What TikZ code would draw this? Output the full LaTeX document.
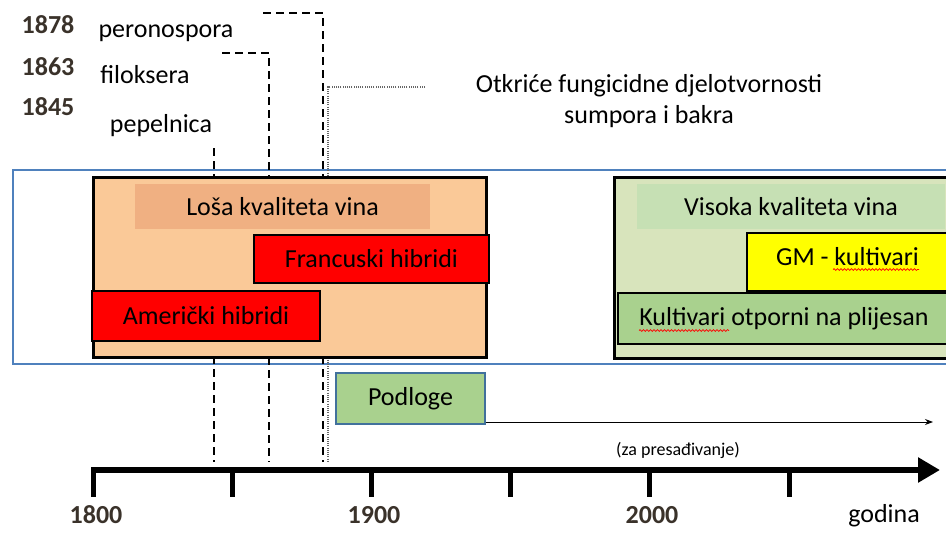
\documentclass[tikz,border=0pt]{standalone}
\usepackage{fontspec}
\setmainfont{Carlito}
\usetikzlibrary{arrows.meta,decorations.pathmorphing}
\definecolor{peach}{RGB}{250,201,152}
\definecolor{peachdark}{RGB}{240,176,130}
\definecolor{hired}{RGB}{255,0,0}
\definecolor{palegreen}{RGB}{216,228,188}
\definecolor{midgreen}{RGB}{198,224,180}
\definecolor{leafgreen}{RGB}{169,209,142}
\definecolor{gmyellow}{RGB}{255,255,0}
\definecolor{frameblue}{RGB}{79,129,189}
\definecolor{edgeblue}{RGB}{65,113,156}
\definecolor{yeartext}{RGB}{58,50,42}
\tikzset{
  bigtxt/.style={font=\fontsize{26}{29}\selectfont},
  yeartxt/.style={font=\bfseries\fontsize{26}{29}\selectfont, text=yeartext, anchor=base},
  lbl/.style={font=\fontsize{26}{29}\selectfont, anchor=base, inner sep=0},
  panel/.style={rectangle, inner sep=0, line width=3pt, draw=black},
  tag/.style={rectangle, inner sep=0, line width=1.8pt, draw=black, font=\fontsize{26}{29}\selectfont},
  dashline/.style={line width=2.5pt, dash pattern=on 8pt off 5pt},
  dotline/.style={line width=1.3pt, black!60, dash pattern=on 1pt off 1.2pt},
  squig/.style={red, line width=0.7pt, decorate, decoration={snake, amplitude=0.9pt, segment length=3.5pt}}
}
\begin{document}
\begin{tikzpicture}[x=1pt,y=-1pt]
\useasboundingbox (0,0) rectangle (946,533);

% outer blue frame
\node[rectangle, draw=frameblue, line width=2.5pt, inner sep=0, minimum width=947pt, minimum height=194pt] (frame) at (486.5,267) {};

% dashed event lines
\coordinate (l1top) at (214,148);
\coordinate (l1bot) at (214,462);
\coordinate (l2top) at (222,53);
\coordinate (l2bot) at (269,462);
\coordinate (l3top) at (263,13);
\coordinate (l3bot) at (323,462);
\coordinate (dtop) at (425,87);
\coordinate (dbot) at (328,462);
\draw[dashline] (l1top) -- (l1bot);
\draw[dashline] (l2top) -| (l2bot);
\draw[dashline] (l3top) -| (l3bot);
\draw[dotline] (dtop) -| (dbot);

% years and pests
\node[yeartxt] (y1878) at (48,33) {1878};
\node[yeartxt] (y1863) at (48,75) {1863};
\node[yeartxt] (y1845) at (48,115) {1845};
\node[lbl] (pero) at (166,37) {peronospora};
\node[lbl] (filo) at (145,83) {filoksera};
\node[lbl] (pepe) at (161,132) {pepelnica};
\node[lbl] (otk1) at (649,92) {Otkriće fungicidne djelotvornosti};
\node[lbl] (otk2) at (649,123) {sumpora i bakra};

% low quality panel
\node[panel, fill=peach, minimum width=393pt, minimum height=180pt] (lowq) at (289.5,267) {};
\node[rectangle, fill=peachdark, inner sep=0, minimum width=295pt, minimum height=45pt, bigtxt] (losa) at (282.5,206.5) {Loša kvaliteta vina};
\node[tag, fill=hired, minimum width=235pt, minimum height=48pt] (franc) at (371.5,259) {Francuski hibridi};
\node[tag, fill=hired, minimum width=228pt, minimum height=50pt] (amer) at (206,316) {Američki hibridi};

% high quality panel
\node[panel, fill=palegreen, minimum width=341pt, minimum height=181pt] (highq) at (784.5,267.5) {};
\node[rectangle, fill=midgreen, inner sep=0, minimum width=308pt, minimum height=45pt, bigtxt] (visoka) at (791,206.5) {Visoka kvaliteta vina};
\node[tag, fill=gmyellow, minimum width=201pt, minimum height=58pt, text height=16pt, text depth=10pt] (gm) at (847.5,262) {GM - kultivari};
\node[tag, fill=leafgreen, minimum width=332pt, minimum height=51pt] (kult) at (784,318.5) {Kultivari otporni na plijesan};
\draw[squig] (833,269.5) -- (919,269.5);
\draw[squig] (639,330.5) -- (729,330.5);

% rootstocks
\node[rectangle, fill=leafgreen, draw=edgeblue, line width=1.8pt, inner sep=0, minimum width=149pt, minimum height=51pt, bigtxt] (podl) at (410.5,398.5) {Podloge};
\coordinate (podlend) at (933,422);
\draw[line width=1pt, -{Stealth[length=8pt,width=6pt]}] (podl.south east |- podlend) -- (podlend);
\node[lbl, font=\fontsize{18}{20}\selectfont] (presad) at (678,455) {(za presađivanje)};

% time axis
\coordinate (ax0) at (91,470);
\coordinate (ax1) at (940,470);
\draw[line width=6pt, -{Triangle[length=22pt,width=24pt]}] (ax0) -- (ax1);
\foreach \i in {0,...,5} {
  \draw[line width=5pt] ({93+139.2*\i},470) -- ({93+139.2*\i},497);
}
\node[yeartxt] (t1800) at (96,523) {1800};
\node[yeartxt] (t1900) at (374,523) {1900};
\node[yeartxt] (t2000) at (652,523) {2000};
\node[lbl] (godina) at (884,522) {godina};
\end{tikzpicture}
\end{document}
